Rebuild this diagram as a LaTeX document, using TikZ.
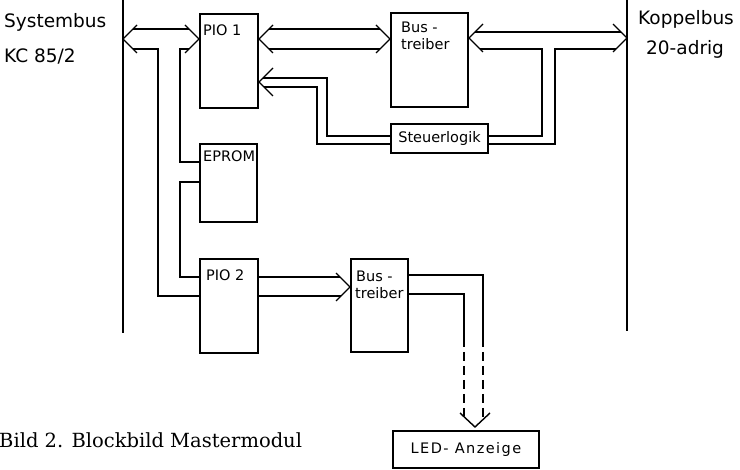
\documentclass[tikz,border=0pt]{standalone}
\usepackage{fontspec}
\setmainfont{DejaVu Sans}
\newfontfamily\capfont{DejaVu Serif}
\usetikzlibrary{calc}
\tikzset{
  box/.style={draw, line width=2pt, inner sep=0pt, anchor=north west},
  conn/.style={line width=1.4pt, line join=miter},
  busline/.style={line width=1.5pt},
  big/.style={inner sep=0pt, font=\fontsize{18.5}{20}\selectfont},
  small/.style={inner sep=0pt, font=\fontsize{14.5}{16}\selectfont},
  headL/.pic={\draw[conn] (14,-14) -- (0,0) -- (14,14);},
  headR/.pic={\draw[conn] (-14,-14) -- (0,0) -- (-14,14);},
  headD/.pic={\draw[conn] (-15,-14) -- (0,0) -- (15,-14);},
}
\begin{document}
\begin{tikzpicture}[x=1pt, y=-1pt]
\useasboundingbox (0,0) rectangle (740,470);

% boxes
\node[box, minimum width=58pt, minimum height=94pt] (pio1) at (199,13) {};
\node[box, minimum width=77pt, minimum height=94pt] (bus1) at (390,12) {};
\node[box, minimum width=97pt, minimum height=29pt] (steu) at (390,123) {};
\node[box, minimum width=57pt, minimum height=78pt] (eprom) at (199,143) {};
\node[box, minimum width=58pt, minimum height=94pt] (pio2) at (199,258) {};
\node[box, minimum width=57pt, minimum height=93pt] (bus2) at (350,258) {};
\node[box, minimum width=146pt, minimum height=37pt] (led) at (392,430) {};

% box texts
\node[small, anchor=base west] (tpio1) at (203,36) {PIO 1};
\node[small, anchor=base west] (tbus1a) at (401,33) {Bus -};
\node[small, anchor=base west] (tbus1b) at (401,50) {treiber};
\node[small] (tsteu) at (steu.center) {Steuerlogik};
\node[small, anchor=base west] (teprom) at (203,162) {EPROM};
\node[small, anchor=base west] (tpio2) at (206,281) {PIO 2};
\node[small, anchor=base west] (tbus2a) at (356,282) {Bus -};
\node[small, anchor=base west] (tbus2b) at (355,299) {treiber};
\node[small] (tled) at (led.center) {\addfontfeature{LetterSpace=10}LED- Anzeige};

% outer texts
\node[big, anchor=base west] (tsys) at (4,28) {Systembus};
\node[big, anchor=base west] (tkc) at (4,63) {KC 85/2};
\node[big, anchor=base west] (tkop) at (638,25) {Koppelbus};
\node[big, anchor=base west] (tadr) at (646,55) {20-adrig};
\node[inner sep=0pt, anchor=base west, font=\capfont\fontsize{19.5}{22}\selectfont] (cap) at (-1,448) {Bild 2. Blockbild Mastermodul};

% system bus verticals
\coordinate (sysT) at (123,0);
\coordinate (sysB) at (123,333);
\coordinate (kopT) at (627,0);
\coordinate (kopB) at (627,331);
\draw[busline] (sysT) -- (sysB);
\draw[busline] (kopT) -- (kopB);

% column coordinates
\coordinate (c1) at (158,0);
\coordinate (c2) at (180,0);
\coordinate (c3) at (317,0);
\coordinate (c4) at (327,0);
\coordinate (c5) at (542,0);
\coordinate (c6) at (555,0);
\coordinate (c7) at (464,0);
\coordinate (c8) at (483,0);
\coordinate (d1) at (0,338);

% edge points
\coordinate (tSys) at (123,39);
\coordinate (tKop) at (627,38);
\coordinate (P1L) at ($(pio1.north west)+(0,26)$);
\coordinate (P1R) at ($(pio1.north east)+(0,26)$);
\coordinate (P1S) at ($(pio1.north east)+(0,69)$);
\coordinate (B1L) at ($(bus1.north west)+(0,27)$);
\coordinate (B1R) at ($(bus1.north east)+(0,26)$);
\coordinate (SLa) at ($(steu.north west)+(0,13)$);
\coordinate (SLb) at ($(steu.north west)+(0,21)$);
\coordinate (SRa) at ($(steu.north east)+(0,13)$);
\coordinate (SRb) at ($(steu.north east)+(0,21)$);
\coordinate (EPa) at ($(eprom.north west)+(0,19)$);
\coordinate (EPb) at ($(eprom.north west)+(0,39)$);
\coordinate (P2a) at ($(pio2.north west)+(0,19)$);
\coordinate (P2b) at ($(pio2.north west)+(0,38)$);
\coordinate (P2Ra) at ($(pio2.north east)+(0,19)$);
\coordinate (P2Rb) at ($(pio2.north east)+(0,38)$);
\coordinate (B2L) at ($(bus2.north west)+(0,29)$);
\coordinate (B2Ra) at ($(bus2.north east)+(0,17)$);
\coordinate (B2Rb) at ($(bus2.north east)+(0,36)$);
\coordinate (tLED) at ($(led.north west)+(83,-3)$);

% Systembus <-> PIO1 / EPROM / PIO2
\draw[conn] ($(tSys)+(10,-10)$) -- ($(P1L)+(-10,-10)$);
\draw[conn] ($(tSys)+(10,10)$) -| (c1 |- P2b) -- (P2b);
\draw[conn] ($(P1L)+(-10,10)$) -| (c2 |- EPa) -- (EPa);
\draw[conn] (EPb) -| (c2 |- P2a) -- (P2a);
\pic at (tSys) {headL};
\pic at (P1L) {headR};

% PIO1 <-> Bustreiber 1
\draw[conn] ($(P1R)+(10,-10)$) -- ($(B1L)+(-10,-10)$);
\draw[conn] ($(P1R)+(10,10)$) -- ($(B1L)+(-10,10)$);
\pic at (P1R) {headL};
\pic at (B1L) {headR};

% Bustreiber 1 <-> Koppelbus, Steuerlogik
\draw[conn] ($(B1R)+(6,-6)$) -- ($(tKop)+(-6,-6)$);
\draw[conn] ($(B1R)+(11,11)$) -| (c5 |- SRa) -- (SRa);
\draw[conn] ($(tKop)+(-11,11)$) -| (c6 |- SRb) -- (SRb);
\pic at (B1R) {headL};
\pic at (tKop) {headR};

% Steuerlogik -> PIO1
\draw[conn] ($(P1S)+(4,-4)$) -| (c4 |- SLa) -- (SLa);
\draw[conn] ($(P1S)+(5,5)$) -| (c3 |- SLb) -- (SLb);
\pic at (P1S) {headL};

% PIO2 -> Bustreiber 2
\draw[conn] (P2Ra) -- ($(B2L)+(-10,-10)$);
\draw[conn] (P2Rb) -- ($(B2L)+(-9,9)$);
\pic at (B2L) {headR};

% Bustreiber 2 -> LED-Anzeige
\draw[conn] (B2Ra) -| (c8 |- d1);
\draw[conn] (B2Rb) -| (c7 |- d1);
\draw[conn, dash pattern=on 9pt off 5pt] (c8 |- d1) -- ($(tLED)+(8,-8)$);
\draw[conn, dash pattern=on 9pt off 5pt] (c7 |- d1) -- ($(tLED)+(-11,-11)$);
\pic at (tLED) {headD};
\end{tikzpicture}
\end{document}
